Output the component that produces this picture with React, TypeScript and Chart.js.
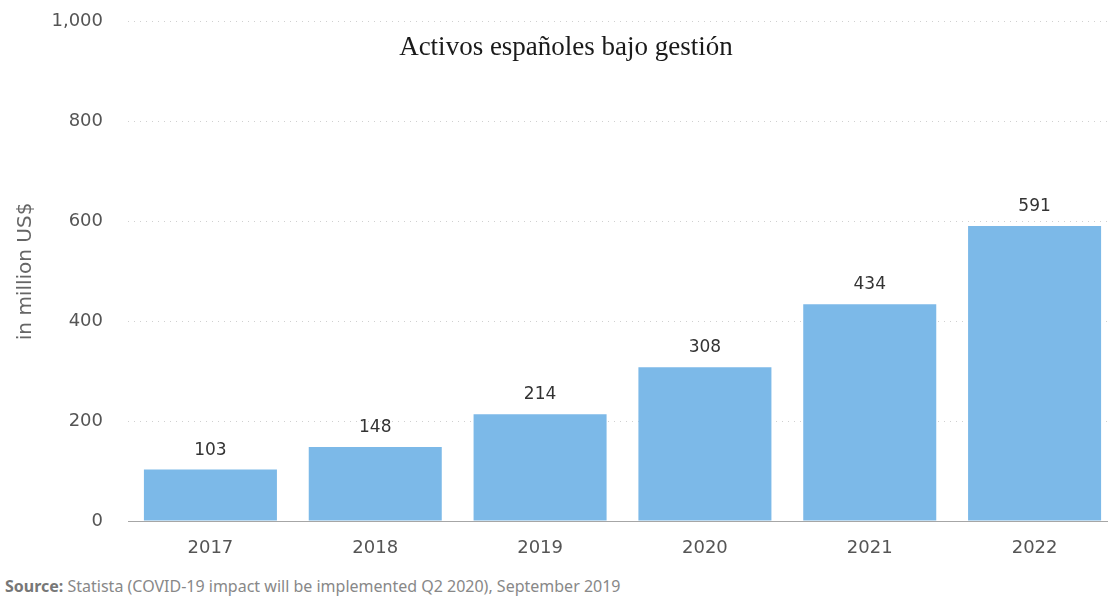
import React, { useEffect, useRef } from "react";
import { Chart, registerables } from "chart.js";

Chart.register(...registerables);

const categories = ["2017", "2018", "2019", "2020", "2021", "2022"];
const values = [103, 148, 214, 308, 434, 591];
const yTicks = [0, 200, 400, 600, 800, 1000];
const titleText = "Activos españoles bajo gestión";
const yAxisTitle = "in million US$";
const sourceLabel = "Source:";
const sourceText = " Statista (COVID-19 impact will be implemented Q2 2020), September 2019";

const TICK_FONT = "'DejaVu Sans', sans-serif";

const valueLabels = {
  id: "valueLabels",
  afterDatasetsDraw(chart: any) {
    const ctx = chart.ctx;
    const meta = chart.getDatasetMeta(0);
    ctx.save();
    ctx.font = `17px ${TICK_FONT}`;
    ctx.fillStyle = "#333333";
    ctx.textAlign = "center";
    ctx.textBaseline = "bottom";
    meta.data.forEach((bar: any, i: number) => {
      ctx.fillText(String(values[i]), bar.x, bar.y - 11);
    });
    ctx.restore();
  },
};

export default function App() {
  const ref = useRef<HTMLCanvasElement>(null);
  useEffect(() => {
    if (!ref.current) return;
    const chart = new Chart(ref.current, {
      type: "bar",
      data: {
        labels: categories,
        datasets: [
          {
            data: values,
            backgroundColor: "#7cb9e8",
            borderWidth: 0,
            categoryPercentage: 1,
            barPercentage: 0.807,
          },
        ],
      },
      options: {
        responsive: false,
        animation: false,
        layout: { padding: { top: 7, left: 0, right: 0, bottom: 0 } },
        plugins: {
          legend: { display: false },
          tooltip: { enabled: false },
          title: { display: false },
        },
        scales: {
          x: {
            grid: { display: false },
            border: { display: true, color: "#a6a6a6", width: 1 },
            ticks: {
              color: "#555555",
              font: { family: TICK_FONT, size: 18 },
              padding: 9,
            },
            afterFit(scale: any) {
              scale.height = 40;
            },
          },
          y: {
            min: 0,
            max: 1000,
            afterBuildTicks(scale: any) {
              scale.ticks = yTicks.map((v) => ({ value: v }));
            },
            grid: {
              color: "#d0d0d0",
              drawTicks: false,
              lineWidth: 1,
            },
            border: { display: false, dash: [1, 5] },
            ticks: {
              color: "#555555",
              font: { family: TICK_FONT, size: 18 },
              padding: 25,
              callback: (v: any) => Number(v).toLocaleString("en-US"),
            },
            title: {
              display: true,
              text: yAxisTitle,
              color: "#666666",
              font: { family: TICK_FONT, size: 20 },
              padding: { top: 14, bottom: 0 },
            },
            afterFit(scale: any) {
              scale.width = 128;
            },
          },
        },
      },
      plugins: [valueLabels],
    });
    return () => chart.destroy();
  }, []);

  return (
    <div
      style={{
        position: "fixed",
        left: 0,
        top: 0,
        width: 1108,
        height: 596,
        overflow: "hidden",
        background: "#ffffff",
      }}
    >
      <canvas
        ref={ref}
        width={1117}
        height={575}
        style={{ position: "absolute", left: 0, top: -14, width: 1117, height: 575 }}
      />
      <div
        style={{
          position: "absolute",
          left: 0,
          width: 1132,
          top: 30,
          textAlign: "center",
          fontFamily: "'Liberation Serif', 'Times New Roman', serif",
          fontSize: 27,
          lineHeight: "32px",
          color: "#1a1a1a",
        }}
      >
        {titleText}
      </div>
      <div
        style={{
          position: "absolute",
          left: 5,
          top: 576,
          fontFamily: "'Noto Sans', sans-serif",
          fontSize: 16,
          lineHeight: "20px",
          color: "#888888",
          whiteSpace: "nowrap",
        }}
      >
        <b style={{ color: "#777777" }}>{sourceLabel}</b>
        {sourceText}
      </div>
    </div>
  );
}
